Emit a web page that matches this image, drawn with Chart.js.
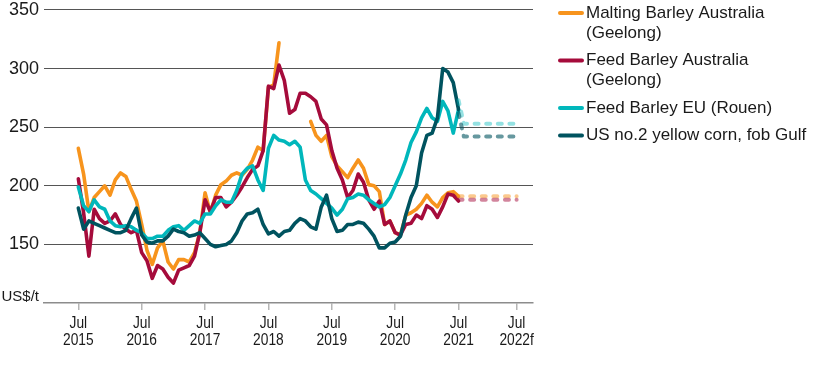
<!DOCTYPE html>
<html><head><meta charset="utf-8">
<script src="https://cdn.jsdelivr.net/npm/chart.js@4.4.0/dist/chart.umd.min.js"></script>
<style>html,body{margin:0;padding:0;background:#fff;}#wrap{width:816px;height:366px;}</style>
</head><body><div id="wrap"><canvas id="c" width="816" height="366"></canvas></div>
<script>
// x values: months counted from July 2015
const months = Array.from({length: 73}, (_, i) => i);
const maltingBarley = [232,210,178,190,195,200,192,205,211,208,197,187,167,145,133,147,153,135,129,137,137,135,143,160,194,177,192,201,204,209,211,209,214,222,233,230,284,286,322,null,null,null,null,null,255,243,238,243,225,217,212,207,215,222,215,201,200,195,167,170,160,158,175,177,180,185,192,186,182,190,194,195,191];
const feedBarleyAus = [206,177,140,180,172,168,170,176,167,163,160,162,143,136,121,132,129,122,117,128,130,132,140,160,188,178,190,190,182,186,192,199,207,214,217,230,285,283,303,290,262,265,279,279,276,272,257,252,230,215,205,190,196,210,203,188,180,187,167,170,160,158,167,168,175,172,183,180,173,182,193,192,187];
const feedBarleyEU = [199,183,178,188,182,180,170,166,165,166,165,162,160,155,155,157,157,162,165,166,162,166,170,168,176,176,183,188,186,186,196,210,215,217,205,196,232,243,239,238,235,238,233,205,196,193,189,185,181,175,180,189,190,193,192,188,185,182,184,190,200,210,222,237,246,258,266,258,255,272,264,245,265];
const usCorn = [181,163,170,168,166,164,162,160,160,162,172,181,158,152,151,153,153,157,163,161,160,157,158,160,155,150,148,149,150,153,160,170,176,177,180,167,159,161,157,161,162,168,172,170,165,163,182,192,172,161,162,167,167,169,168,163,157,147,147,151,152,157,175,190,200,228,243,245,258,300,297,288,265];
// forecast (dashed)
const forecastMonths = [72, 73, 83];
const maltingForecast = [191, 191, 191];
const feedAusForecast = [188, 188, 188];
const feedEUForecast = [273, 253, 253];
const cornForecast = [262, 242, 242];
// axes
const tickMonths = [0, 12, 24, 36, 48, 60, 72, 83];
const tickLabels = [['Jul','2015'],['Jul','2016'],['Jul','2017'],['Jul','2018'],['Jul','2019'],['Jul','2020'],['Jul','2021'],['Jul','2022f']];
const yTicks = [100, 150, 200, 250, 300, 350];
const yUnit = 'US$/t';
const seriesNames = [['Malting Barley Australia','(Geelong)'],['Feed Barley Australia','(Geelong)'],['Feed Barley EU (Rouen)'],['US no.2 yellow corn, fob Gulf']];

const colors = ['#F7941D', '#A50B3B', '#00B7BB', '#00535F'];
const fcColors = ['rgba(247,148,29,0.5)', 'rgba(165,11,59,0.5)', 'rgba(0,183,187,0.42)', 'rgba(0,83,95,0.6)'];
const FONT = '"Liberation Sans", Arial, sans-serif';
const TEXT = '#1a1a1a';

const pts = (xs, ys) => xs.map((x, i) => ({x: x, y: ys[i]}));
const solid = [maltingBarley, feedBarleyAus, feedBarleyEU, usCorn];
const fc = [maltingForecast, feedAusForecast, feedEUForecast, cornForecast];

const datasets = [];
solid.forEach((s, i) => datasets.push({
  label: seriesNames[i].join(' '), data: pts(months, s), borderColor: colors[i],
  borderWidth: 3.6, order: 4 - i, spanGaps: false
}));
fc.forEach((s, i) => datasets.push({
  label: seriesNames[i].join(' ') + ' forecast', data: pts(forecastMonths, s), borderColor: fcColors[i],
  borderWidth: 4, borderDash: [4, 7.6], borderCapStyle: 'round', order: -i
}));

// legend at the right + condensed x-axis labels placed through the x scale
const extras = {
  id: 'extras',
  afterDraw(chart) {
    const ctx = chart.ctx;
    ctx.save();
    ctx.font = '17px ' + FONT;
    ctx.textBaseline = 'middle';
    let y = 13;
    seriesNames.forEach((lines, i) => {
      ctx.strokeStyle = colors[i];
      ctx.lineWidth = 4;
      ctx.lineCap = 'round';
      ctx.beginPath(); ctx.moveTo(560, y); ctx.lineTo(582, y); ctx.stroke();
      ctx.fillStyle = TEXT;
      lines.forEach((t, j) => ctx.fillText(t, 586, y + j * 20));
      y += lines.length * 20 + 7.5;
    });
    const xs = chart.scales.x;
    ctx.textAlign = 'center';
    tickMonths.forEach((v, i) => {
      const px = xs.getPixelForValue(v);
      tickLabels[i].forEach((t, j) => {
        ctx.save();
        ctx.translate(px, xs.top + 20 + j * 17.5);
        ctx.scale(0.81, 1);
        ctx.fillText(t, 0, 0);
        ctx.restore();
      });
    });
    ctx.restore();
  }
};

new Chart(document.getElementById('c'), {
  type: 'line',
  data: { datasets },
  plugins: [extras],
  options: {
    responsive: false, animation: false, devicePixelRatio: 1,
    layout: { padding: { left: 0, right: 283, top: 10, bottom: 0 } },
    plugins: { legend: { display: false }, tooltip: { enabled: false } },
    elements: { point: { radius: 0 }, line: { tension: 0, borderJoinStyle: 'round', borderCapStyle: 'round' } },
    scales: {
      x: {
        type: 'linear', min: -6.5, max: 86.1,
        afterBuildTicks: s => { s.ticks = tickMonths.map(v => ({ value: v })); },
        afterFit: s => { s.height = 63; s.paddingLeft = 0; s.paddingRight = 0; },
        ticks: { autoSkip: false, maxRotation: 0, callback: () => '' },
        grid: { drawOnChartArea: false, drawTicks: true, tickLength: 7, color: '#b5b5b5', lineWidth: 1.5 },
        border: { display: true, color: '#8c8c8c', width: 1.5 }
      },
      y: {
        min: 100, max: 350,
        afterBuildTicks: s => { s.ticks = yTicks.map(v => ({ value: v })); },
        afterFit: s => { s.width = 44; s.paddingTop = 0; s.paddingBottom = 0; },
        ticks: {
          padding: 5, color: TEXT,
          font: c => (c.tick && c.tick.value === 100) ? { family: FONT, size: 15, lineHeight: 0.8 } : { family: FONT, size: 18 },
          callback: v => v === 100 ? [yUnit, ''] : String(v)
        },
        grid: { drawTicks: false, color: c => (c.tick && c.tick.value === 100) ? '#8c8c8c' : '#555555', lineWidth: 1.1 },
        border: { display: false }
      }
    }
  }
});
</script></body></html>
